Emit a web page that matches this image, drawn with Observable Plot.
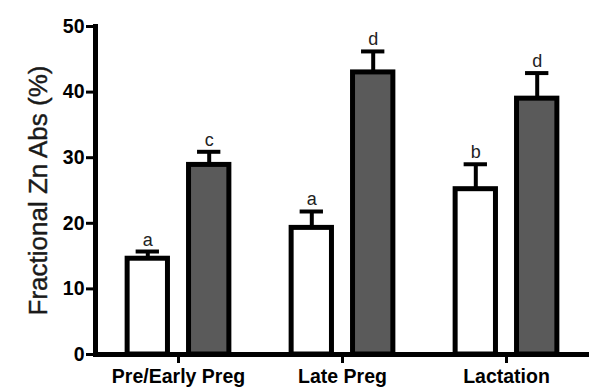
<!DOCTYPE html>
<html><head><meta charset="utf-8">
<script src="https://cdn.jsdelivr.net/npm/d3@7"></script>
<script src="https://cdn.jsdelivr.net/npm/@observablehq/plot@0.6"></script>
<style>body{margin:0;background:#fff}</style>
</head><body><div id="chart"></div>
<script>
const groups = ["Pre/Early Preg", "Late Preg", "Lactation"];
const whiteMeans = [14.6, 19.3, 25.2];
const whiteErrs = [1.1, 2.5, 3.8];
const whiteLetters = ["a", "a", "b"];
const darkMeans = [28.9, 43.0, 39.0];
const darkErrs = [2.0, 3.2, 3.9];
const darkLetters = ["c", "d", "d"];
const yTicks = [0, 10, 20, 30, 40, 50];
const yLabel = "Fractional Zn Abs (%)";

const whiteRows = groups.map((g, i) => ({group: g, mean: whiteMeans[i], top: whiteMeans[i] + whiteErrs[i], letter: whiteLetters[i]}));
const darkRows = groups.map((g, i) => ({group: g, mean: darkMeans[i], top: darkMeans[i] + darkErrs[i], letter: darkLetters[i]}));

const W = 589, H = 388, ML = 95, MR = 0;
const bw = (W - ML - MR) / groups.length; // band width
const off = 30.7;   // bar center offset from group center
const barW = 41;    // bar width
const capW = 24;
const c = bw / 2;
const wL = c - off - barW / 2, wR = bw - (c - off + barW / 2);
const dL = c + off - barW / 2, dR = bw - (c + off + barW / 2);
const cwL = c - off - capW / 2, cwR = bw - (c - off + capW / 2);
const cdL = c + off - capW / 2, cdR = bw - (c + off + capW / 2);

const chart = Plot.plot({
  width: W, height: H,
  marginLeft: ML, marginRight: MR, marginTop: 26, marginBottom: 34,
  style: {fontFamily: "'Liberation Sans', Arial, sans-serif", background: "#fff", color: "#000"},
  x: {domain: groups, padding: 0, axis: null},
  y: {domain: [0, 50], axis: null},
  marks: [
    Plot.ruleX(whiteRows, {x: "group", y1: "mean", y2: "top", strokeWidth: 4, dx: -off}),
    Plot.ruleX(darkRows, {x: "group", y1: "mean", y2: "top", strokeWidth: 4, dx: off}),
    Plot.tickY(whiteRows, {x: "group", y: "top", strokeWidth: 4, insetLeft: cwL, insetRight: cwR}),
    Plot.tickY(darkRows, {x: "group", y: "top", strokeWidth: 4, insetLeft: cdL, insetRight: cdR}),
    Plot.barY(whiteRows, {x: "group", y: "mean", fill: "#fff", stroke: "#000", strokeWidth: 5, insetLeft: wL, insetRight: wR}),
    Plot.barY(darkRows, {x: "group", y: "mean", fill: "#5a5a5a", stroke: "#000", strokeWidth: 5, insetLeft: dL, insetRight: dR}),
    Plot.text(whiteRows, {x: "group", y: "top", text: "letter", dx: -off, dy: -6, lineAnchor: "bottom", fontSize: 18, fill: "#222"}),
    Plot.text(darkRows, {x: "group", y: "top", text: "letter", dx: off, dy: -6, lineAnchor: "bottom", fontSize: 18, fill: "#222"}),
    Plot.axisY({ticks: yTicks, tickSize: 9, tickPadding: 2, strokeWidth: 3, fontSize: 19.5, fontWeight: "bold", label: null, tickFormat: d => String(d)}),
    Plot.axisX({tickSize: 9, tickPadding: 6, strokeWidth: 3, fontSize: 19.5, fontWeight: "bold", label: null}),
    Plot.frame({anchor: "left", strokeWidth: 5}),
    Plot.ruleY([0], {strokeWidth: 5}),
    Plot.text([yLabel], {text: d => d, frameAnchor: "left", rotate: -90, dx: -57, textAnchor: "middle", lineAnchor: "middle", fontSize: 26, letterSpacing: 1, fill: "#1a1a1a", stroke: "#1a1a1a", strokeWidth: 0.4})
  ]
});
document.getElementById("chart").append(chart);
</script>
</body></html>
